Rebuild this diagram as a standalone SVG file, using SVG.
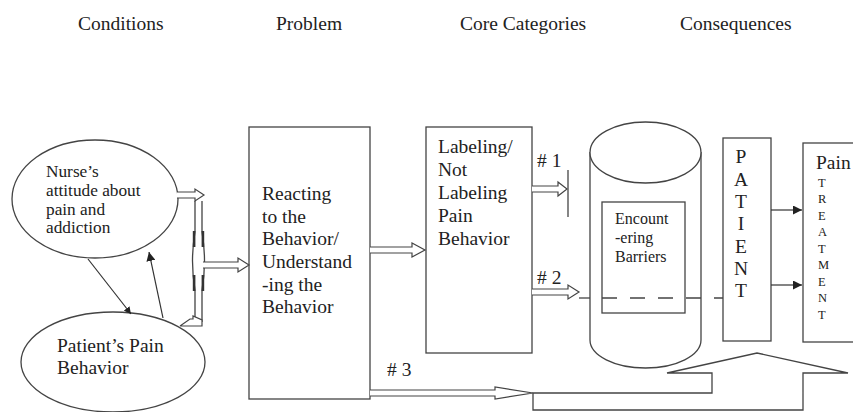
<svg xmlns="http://www.w3.org/2000/svg" width="853" height="412" viewBox="0 0 853 412" font-family="'Liberation Serif', 'DejaVu Serif', serif">
<style>
text{font-family:'Liberation Serif','DejaVu Serif',serif;fill:#222}
.h{font-size:19.5px}
.b{font-size:19.5px}
.n{font-size:17.3px}
.s{font-size:16px}
.t{font-size:12.5px}
.o{fill:#fff;stroke:#444;stroke-width:1.3}
.l{fill:none;stroke:#444;stroke-width:1.3}
.da{fill:#fff;stroke:#444;stroke-width:1.2}
</style>
<defs>
<marker id="ah" viewBox="0 0 10 10" refX="10" refY="5" markerWidth="7" markerHeight="7" markerUnits="userSpaceOnUse" orient="auto"><path d="M0,0L10,5L0,10z" fill="#222"/></marker>
<marker id="ah2" viewBox="0 0 10 10" refX="10" refY="5" markerWidth="9" markerHeight="9" markerUnits="userSpaceOnUse" orient="auto"><path d="M0,0L10,5L0,10z" fill="#222"/></marker>
</defs>

<g id="headings">
<text class="h" x="78" y="30">Conditions</text>
<text class="h" x="276" y="30">Problem</text>
<text class="h" x="460" y="30">Core Categories</text>
<text class="h" x="680" y="30">Consequences</text>
</g>

<g id="nurse">
<ellipse class="o" cx="95" cy="199" rx="83" ry="59"/>
<text class="n" x="46" y="177">Nurse’s</text>
<text class="n" x="46" y="196">attitude about</text>
<text class="n" x="46" y="215">pain and</text>
<text class="n" x="46" y="233">addiction</text>
</g>

<g id="patient-behavior">
<ellipse class="o" cx="113" cy="362" rx="92" ry="50"/>
<text class="b" x="57" y="352">Patient’s Pain</text>
<text class="b" x="57" y="374">Behavior</text>
</g>

<g id="problem">
<rect class="o" x="249" y="127" width="121" height="272"/>
<text class="b" x="262" y="200">Reacting</text>
<text class="b" x="262" y="223">to the</text>
<text class="b" x="262" y="245">Behavior/</text>
<text class="b" x="262" y="268">Understand</text>
<text class="b" x="262" y="291">-ing the</text>
<text class="b" x="262" y="313">Behavior</text>
</g>

<g id="labeling">
<rect class="o" x="426" y="127" width="106" height="226"/>
<text class="b" x="438" y="153">Labeling/</text>
<text class="b" x="438" y="176">Not</text>
<text class="b" x="438" y="199">Labeling</text>
<text class="b" x="438" y="222">Pain</text>
<text class="b" x="438" y="245">Behavior</text>
</g>

<g id="barriers">
<path class="o" d="M590,152 V340 A55.5,28 0 0 0 701,340 V152"/>
<ellipse class="o" cx="645.5" cy="152.5" rx="55.5" ry="30.5"/>
<rect class="o" x="602" y="202" width="83" height="111"/>
<text class="s" x="615" y="224">Encount</text>
<text class="s" x="615" y="243">-ering</text>
<text class="s" x="615" y="262">Barriers</text>
</g>

<g id="patient">
<rect class="o" x="723" y="138" width="48" height="203"/>
<g class="b" text-anchor="middle">
<text x="741" y="163">P</text>
<text x="741" y="186">A</text>
<text x="741" y="208">T</text>
<text x="741" y="230">I</text>
<text x="741" y="253">E</text>
<text x="741" y="275">N</text>
<text x="741" y="297">T</text>
</g>
</g>

<g id="pain-treatment">
<rect class="o" x="803" y="143" width="60" height="199"/>
<text class="b" x="816" y="169">Pain</text>
<g class="t">
<text x="818" y="187">T</text>
<text x="818" y="203">R</text>
<text x="818" y="220">E</text>
<text x="818" y="236">A</text>
<text x="818" y="253">T</text>
<text x="818" y="269">M</text>
<text x="818" y="286">E</text>
<text x="818" y="302">N</text>
<text x="818" y="319">T</text>
</g>
</g>

<g id="connectors">
<line x1="88" y1="259" x2="131" y2="314" stroke="#333" stroke-width="1.2" marker-end="url(#ah)"/>
<line x1="163" y1="318" x2="149" y2="252" stroke="#333" stroke-width="1.2" marker-end="url(#ah2)"/>
<polyline class="da" points="177,192 195,192 195,189 204,195 195,201 195,198 177,198"/>
<path class="l" d="M195,201 V232 Q190,261 195,290 V322"/>
<path class="l" d="M202,201 V232 Q207,261 202,290 V322"/>
<rect x="192.8" y="231" width="2.6" height="16" fill="#333"/>
<rect x="201.6" y="231" width="2.6" height="16" fill="#333"/>
<rect x="192.8" y="275" width="2.6" height="16" fill="#333"/>
<rect x="201.6" y="275" width="2.6" height="16" fill="#333"/>
<polyline class="da" points="180,326 190,319 193,319 193,316 202,320 202,326 180,326"/>
<polyline class="da" points="203,262 238,262 238,258 249,265 238,272 238,268 203,268"/>
<polyline class="da" points="370,247 412,247 412,243 425,250 412,257 412,253 370,253"/>
<text class="b" x="537" y="167"># 1</text>
<polyline class="da" points="532,186 558,186 558,182 567,189 558,196 558,192 532,192"/>
<line x1="568" y1="170" x2="568" y2="217" stroke="#444" stroke-width="1.3"/>
<text class="b" x="537" y="284"># 2</text>
<polyline class="da" points="532,289 568,289 568,285 579,292 568,299 568,295 532,295"/>
<line x1="579" y1="298" x2="590" y2="298" stroke="#444" stroke-width="1.3"/>
<line x1="602" y1="298" x2="723" y2="298" stroke="#444" stroke-width="1.3" stroke-dasharray="15 13"/>
<line x1="771" y1="210" x2="802" y2="210" stroke="#333" stroke-width="1.2" marker-end="url(#ah2)"/>
<line x1="771" y1="285" x2="802" y2="285" stroke="#333" stroke-width="1.2" marker-end="url(#ah2)"/>
<text class="b" x="387" y="376"># 3</text>
<polyline class="da" points="370,390 495,390 495,387 533,393 495,399 495,396 370,396"/>
<path class="o" d="M533,393 H712 V373 H667 L757,353 L848,373 H803 V410 H533 Z"/>
</g>
</svg>
